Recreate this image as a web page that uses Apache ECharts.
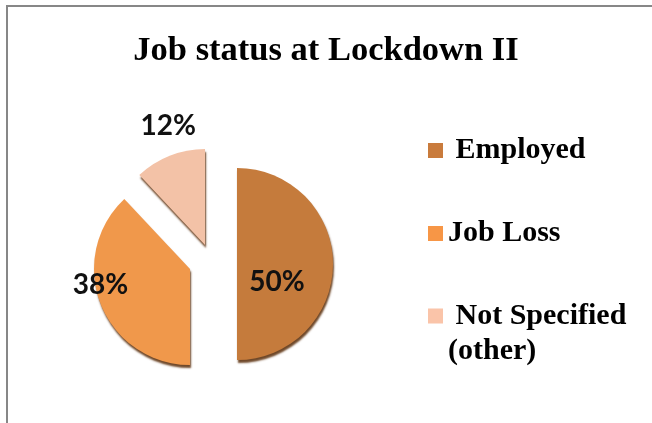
<!DOCTYPE html>
<html>
<head>
<meta charset="utf-8">
<title>Job status at Lockdown II</title>
<script src="https://cdn.jsdelivr.net/npm/echarts@6/dist/echarts.min.js"></script>
<style>
  html, body { margin: 0; padding: 0; background: #ffffff; overflow: hidden; }
  #frame {
    position: absolute; left: 6px; top: 5px; width: 700px; height: 480px;
    border-top: 2px solid #878787; border-left: 2px solid #878787;
  }
  #chart { position: absolute; left: 0; top: 0; width: 652px; height: 423px; }
</style>
</head>
<body>
<div id="frame"></div>
<div id="chart"></div>
<script>
// Job status shares (percent of respondents)
const categories = ['Employed', 'Job Loss', 'Not Specified (other)'];
const shares = [50, 38, 12];
// Text shown next to each legend swatch
const legendLabels = [' Employed', 'Job Loss', ' Not Specified\n(other)'];

const sliceColors = ['#C57B3C', '#F0984B', '#F3C2A7'];
const swatchColors = ['#C97B3C', '#F79646', '#FAC4A9'];

// Each slice is pulled out by its own amount, so every slice gets its own
// pie series (same data, only one slice painted) with its own centre.
const sliceCenters = [[237, 264], [190, 269], [205, 245]];
const labelShift = [{ dx: -11, dy: 18 }, { dx: -42, dy: -3 }, { dx: -18, dy: -72 }];

const chart = echarts.init(document.getElementById('chart'), null, { renderer: 'canvas' });

const series = categories.map((_, i) => ({
  type: 'pie',
  radius: 96,
  center: sliceCenters[i],
  startAngle: 90,
  clockwise: true,
  silent: true,
  animation: false,
  labelLine: { show: false },
  labelLayout: labelShift[i],
  emphasis: { disabled: true },
  data: categories.map((name, j) => ({
    name: name,
    value: shares[j],
    itemStyle: j === i
      ? {
          color: sliceColors[j],
          shadowColor: 'rgba(95, 52, 18, 0.9)',
          shadowBlur: 2,
          shadowOffsetX: 1,
          shadowOffsetY: 3
        }
      : { color: 'rgba(0,0,0,0)' },
    label: {
      show: j === i,
      position: 'inside',
      formatter: '{c}%',
      fontFamily: 'Lato',
      fontWeight: 'bold',
      fontSize: 28,
      color: '#111111'
    }
  }))
}));

const legendText = {
  fontFamily: 'Liberation Serif',
  fontWeight: 'bold',
  fontSize: 30,
  lineHeight: 35,
  color: '#000000'
};
const legendFormatter = name => legendLabels[categories.indexOf(name)];
const legendItem = i => ({ name: categories[i], itemStyle: { color: swatchColors[i] } });

chart.setOption({
  backgroundColor: 'transparent',
  animation: false,
  title: {
    text: 'Job status at Lockdown II',
    left: 'center',
    top: 26,
    padding: [5, 0, 5, 12],
    textStyle: {
      fontFamily: 'Liberation Serif',
      fontWeight: 'bold',
      fontSize: 34.5,
      lineHeight: 40,
      color: '#000000'
    }
  },
  legend: [
    {
      // single-line entries
      orient: 'vertical',
      left: 423,
      top: 128,
      itemWidth: 15,
      itemHeight: 15,
      itemGap: 48,
      icon: 'rect',
      selectedMode: false,
      formatter: legendFormatter,
      textStyle: legendText,
      data: [legendItem(0), legendItem(1)]
    },
    {
      // two-line entry: the swatch sits at the top of a taller icon box
      // so it lines up with the first line of text
      orient: 'vertical',
      left: 423,
      top: 293.5,
      itemWidth: 15,
      itemHeight: 50,
      icon: 'path://M0,0L10,0L10,10L0,10Z M0,33.333L10,33.333Z',
      symbolKeepAspect: true,
      selectedMode: false,
      formatter: legendFormatter,
      textStyle: legendText,
      data: [legendItem(2)]
    }
  ],
  series: series
});
</script>
</body>
</html>
